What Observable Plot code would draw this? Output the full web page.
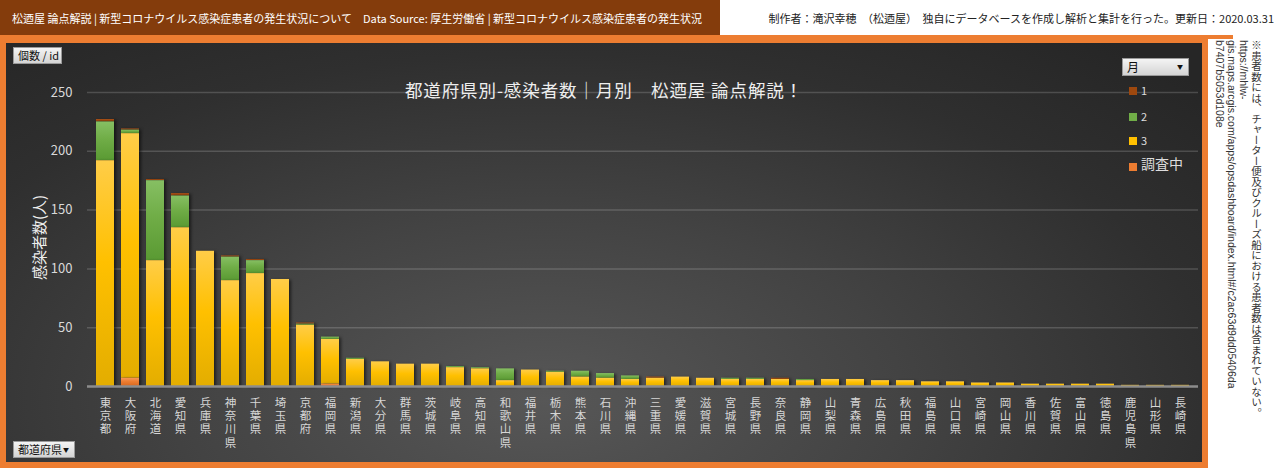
<!DOCTYPE html>
<html><head><meta charset="utf-8">
<script src="https://cdn.jsdelivr.net/npm/d3@7"></script>
<script src="https://cdn.jsdelivr.net/npm/@observablehq/plot@0.6"></script>
<style>
html,body{margin:0;padding:0;width:1280px;height:468px;overflow:hidden;background:#fff;font-family:"Noto Sans CJK JP","Noto Sans",sans-serif;}
#hdr{position:absolute;left:0;top:0;width:720px;height:36px;background:#843c0c;color:#fff;font-size:11px;line-height:36px;padding-left:12px;box-sizing:border-box;white-space:nowrap;overflow:hidden}
#hdr2{position:absolute;right:6px;top:0;height:36px;line-height:36px;font-size:11px;color:#222;white-space:nowrap}
#hline{position:absolute;left:0;top:35px;width:1233px;height:4px;background:#ed7d31}
#frame{position:absolute;left:0;top:37px;width:1208px;height:431px;border:6px solid #ed7d31;box-sizing:border-box;
 background:radial-gradient(ellipse 75% 110% at 45% 85%, #575757 0%, #434343 40%, #2f2f2f 75%, #262626 100%);}
#chart{position:absolute;left:0;top:0;}
#chart g[aria-label="bar"] rect{filter:drop-shadow(2px 1px 1.5px rgba(0,0,0,0.55));}
.btn{position:absolute;background:linear-gradient(#f4f4f4,#d4d4d4);border:1px solid #9a9a9a;box-sizing:border-box;font-size:11px;color:#111;line-height:15px;padding-left:4px;white-space:nowrap}
.btn .arr{position:absolute;right:5px;top:0;font-size:6px}
#title{position:absolute;left:0;width:1196px;top:34px;text-align:center;color:#eee;font-size:17.5px;letter-spacing:0.9px}
#ylab{position:absolute;left:-13px;top:184px;width:90px;text-align:center;color:#eee;font-size:15px;transform:rotate(-90deg);white-space:nowrap}
.lg{position:absolute;left:1123px;color:#ddd;font-size:11px;}
.lg i{position:absolute;left:0;width:8px;height:8px;}
.lg span{position:absolute;left:12px;white-space:nowrap}
#note{position:absolute;right:18px;top:40px;height:428px;writing-mode:vertical-rl;font-size:10.5px;line-height:12px;color:#333;white-space:nowrap;font-family:"Liberation Sans","Noto Sans CJK JP",sans-serif}
#note span{font-family:"Noto Sans CJK JP",sans-serif}
</style></head>
<body>
<div id="hdr">松迺屋 論点解説 | 新型コロナウイルス感染症患者の発生状況について　Data Source: 厚生労働省 | 新型コロナウイルス感染症患者の発生状況</div>
<div id="hdr2">制作者：滝沢幸穂　（松迺屋）　独自にデータベースを作成し解析と集計を行った。更新日：2020.03.31</div>
<div id="hline"></div>
<div id="note"><span>※患者数には、チャーター便及びクルーズ船における患者数は含まれていない。</span><br>https://mhlw-<br>gis.maps.arcgis.com/apps/opsdashboard/index.html#/c2ac63d9dd05406da<br>b7407b5053d108e</div>
<div id="frame">
  <div id="chart"></div>
  <div id="title">都道府県別-感染者数｜月別　松迺屋 論点解説！</div>
  <div id="ylab">感染者数(人)</div>
  <div class="btn" style="left:7px;top:4px;width:49px;height:17px;">個数 / id</div>
  <div class="btn" style="left:7px;top:398px;width:62px;height:17px;">都道府県<span class="arr">▼</span></div>
  <div class="btn" style="left:1116px;top:15px;width:67px;height:18px;font-size:12px;">月<span class="arr">▼</span></div>
  <div class="lg" style="top:44px;"><i style="top:0;background:#9e480e"></i><span style="top:-5px">1</span></div>
  <div class="lg" style="top:70px;"><i style="top:0;background:#70ad47"></i><span style="top:-5px">2</span></div>
  <div class="lg" style="top:94px;"><i style="top:0;background:#ffc000"></i><span style="top:-5px">3</span></div>
  <div class="lg" style="top:120px;"><i style="top:0;background:#ed7d31"></i><span style="top:-10px;font-size:14px">調査中</span></div>
</div>
<script>
const prefectures = ["東京都","大阪府","北海道","愛知県","兵庫県","神奈川県","千葉県","埼玉県","京都府","福岡県","新潟県","大分県","群馬県","茨城県","岐阜県","高知県","和歌山県","福井県","栃木県","熊本県","石川県","沖縄県","三重県","愛媛県","滋賀県","宮城県","長野県","奈良県","静岡県","山梨県","青森県","広島県","秋田県","福島県","山口県","宮崎県","岡山県","香川県","佐賀県","富山県","徳島県","鹿児島県","山形県","長崎県"];
const month1 = [2,1,1,2,0,1,1,0,1,0,0,0,0,0,0,0,0,0,0,0,0,0,1,0,0,0,0,1,0,0,0,0,0,0,0,0,0,0,0,0,0,0,0,0];
const month2 = [33,3,68,27,0,20,11,0,1,2,1,0,0,0,1,1,10,0,1,5,4,3,0,0,0,1,1,0,1,0,0,0,0,0,0,0,0,0,0,0,0,0,0,0];
const month3 = [192,208,107,135,115,90,96,91,52,38,23,21,19,19,16,15,5,14,12,8,7,6,7,8,7,6,6,6,5,6,6,5,5,4,4,3,3,2,2,2,2,1,1,1];
const unknown = [0,7,0,0,0,0,0,0,0,2,0,0,0,0,0,0,0,0,0,0,0,0,0,0,0,0,0,0,0,0,0,0,0,0,0,0,0,0,0,0,0,0,0,0];
const seriesNames = ["1","2","3","調査中"];
const yTicks = [0,50,100,150,200,250];

const rows = [];
prefectures.forEach((p,i)=>{
  [[ "1",month1[i]],["2",month2[i]],["3",month3[i]],["調査中",unknown[i]]].forEach(([s,v])=>{
    if (v>0) rows.push({pref:p, series:s, value:v});
  });
});

const W = 1196, H = 419;
const chart = Plot.plot({
  width: W, height: H,
  marginTop: 49, marginBottom: 76, marginLeft: 81, marginRight: 4,
  style: {background: "transparent", color: "#d9d9d9", fontFamily: "'Noto Sans CJK JP', sans-serif", overflow: "visible"},
  x: {domain: prefectures, paddingInner: 0.29, paddingOuter: 0.1},
  y: {domain: [0, 250]},
  color: {domain: seriesNames, range: ["url(#g1)","url(#g2)","url(#g3)","url(#g4)"]},
  marks: [
    Plot.gridY(yTicks.filter(d=>d>0), {stroke: "#ffffff", strokeOpacity: 0.17, strokeWidth: 1.5}),
    Plot.barY(rows, Plot.stackY({x: "pref", y: "value", fill: "series", order: ["調査中","3","2","1"]})),
    Plot.ruleY([0], {stroke: "#8c8c8c", strokeWidth: 2.5}),
    Plot.axisY({ticks: yTicks, tickSize: 0, tickPadding: 15, fontSize: 13, label: null, fill: "#d9d9d9"}),
    Plot.axisX({tickSize: 0, tickPadding: 11, fontSize: 11.5, lineHeight: 1.15, label: null, fill: "#d6d6d6",
      tickFormat: d => [...d].join("\n")})
  ]
});
const defs = d3.select(chart).insert("defs", ":first-child");
const grads = {
  g1: ["#b5561a","#9e480e","#86390a"],
  g2: ["#86bf63","#70ad47","#5a9a33"],
  g3: ["#ffcd48","#ffc000","#e3ad00"],
  g4: ["#f79858","#ed7d31","#d9681e"]
};
for (const [id, c] of Object.entries(grads)) {
  const g = defs.append("linearGradient").attr("id", id).attr("x1",0).attr("y1",0).attr("x2",0).attr("y2",1);
  g.append("stop").attr("offset", 0).attr("stop-color", c[0]);
  g.append("stop").attr("offset", 0.45).attr("stop-color", c[1]);
  g.append("stop").attr("offset", 1).attr("stop-color", c[2]);
}
document.getElementById("chart").appendChild(chart);
</script>
</body></html>
